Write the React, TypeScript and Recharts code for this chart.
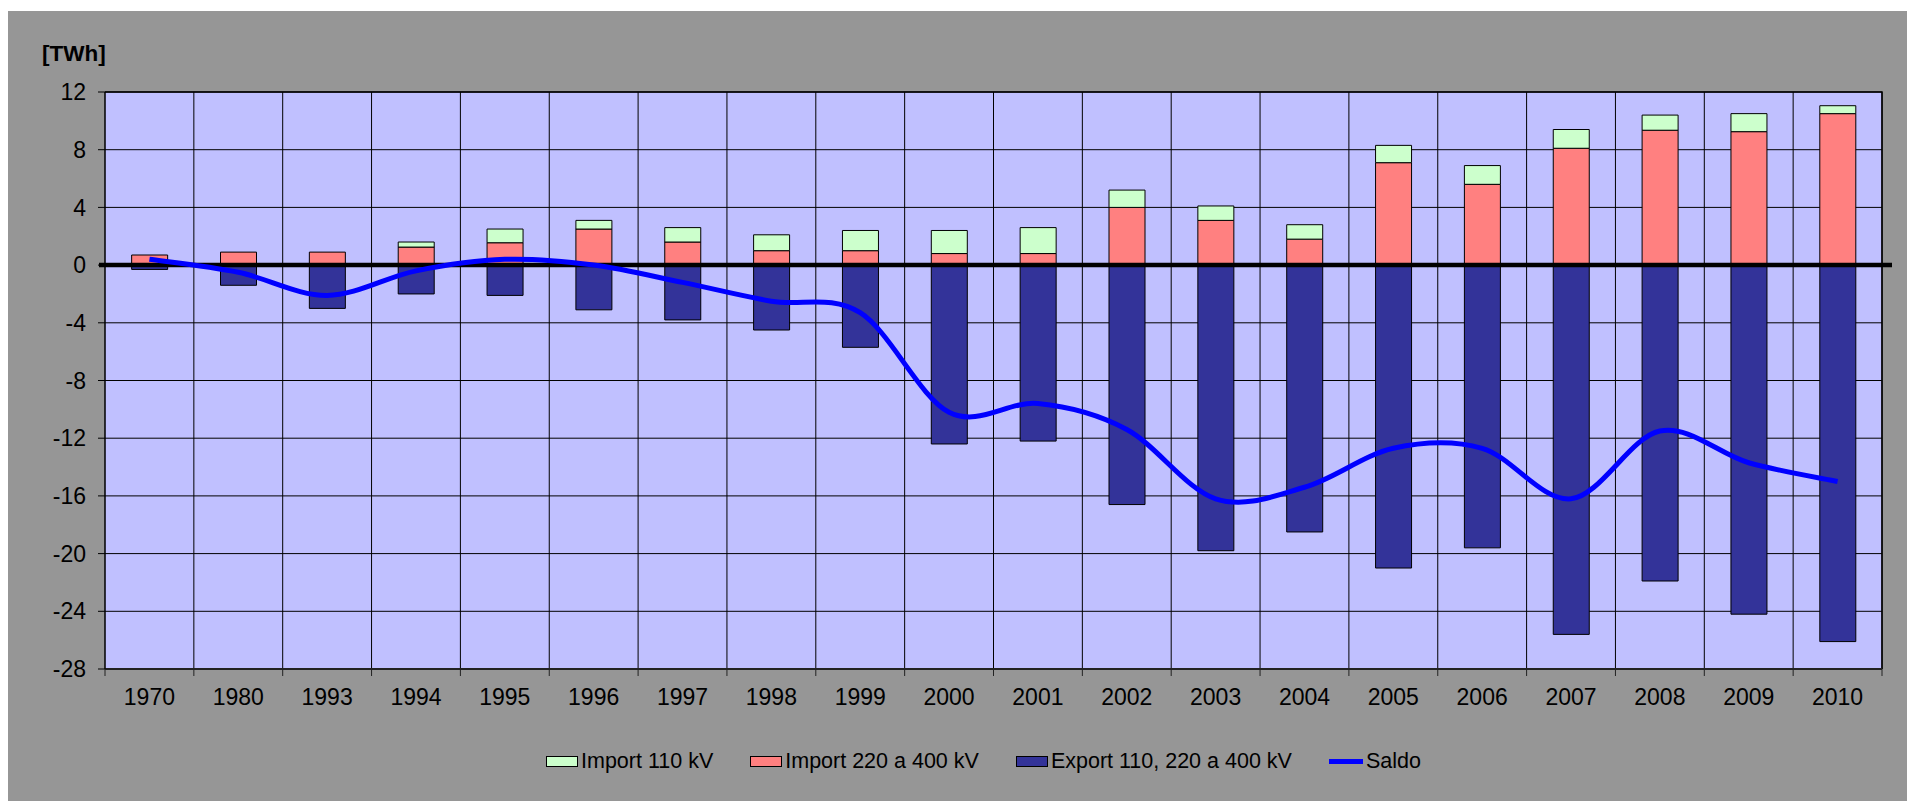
import React from 'react';
import { ComposedChart, Bar, Line, XAxis, YAxis, CartesianGrid, ReferenceLine } from 'recharts';

// hodnoty [TWh]
const years = ['1970', '1980', '1993', '1994', '1995', '1996', '1997', '1998', '1999', '2000',
  '2001', '2002', '2003', '2004', '2005', '2006', '2007', '2008', '2009', '2010'];
const import110 = [0, 0, 0, 0.35, 0.95, 0.6, 1.0, 1.1, 1.4, 1.6,
  1.8, 1.2, 1.0, 1.0, 1.2, 1.3, 1.3, 1.05, 1.25, 0.55];
const import220_400 = [0.7, 0.9, 0.9, 1.25, 1.55, 2.5, 1.6, 1.0, 1.0, 0.8,
  0.8, 4.0, 3.1, 1.8, 7.1, 5.6, 8.1, 9.35, 9.25, 10.5];
const export110_400 = [-0.3, -1.4, -3.0, -2.0, -2.1, -3.1, -3.8, -4.5, -5.7, -12.4,
  -12.2, -16.6, -19.8, -18.5, -21.0, -19.6, -25.6, -21.9, -24.2, -26.1];
const saldo = [0.4, -0.5, -2.1, -0.4, 0.4, 0.0, -1.2, -2.5, -3.3, -10.2,
  -9.6, -11.4, -16.2, -15.4, -12.7, -12.7, -16.2, -11.5, -13.7, -15.0];
const yTicks = [12, 8, 4, 0, -4, -8, -12, -16, -20, -24, -28];

const data = years.map((year, i) => ({
  year,
  import110: import110[i],
  import220: import220_400[i],
  export: export110_400[i],
  saldo: saldo[i],
}));

const CHART_W = 1899;
const CHART_H = 790;
const MARGIN = { top: 81, right: 25, bottom: 0, left: 0 };
const Y_AXIS_W = 97;
const X_AXIS_H = 132;
const PLOT_LEFT = MARGIN.left + Y_AXIS_W;
const PLOT_W = CHART_W - PLOT_LEFT - MARGIN.right;
const PLOT_BOTTOM = CHART_H - MARGIN.bottom - X_AXIS_H;
const BAND = PLOT_W / years.length;
const FONT = '"Liberation Sans", Arial, Helvetica, sans-serif';
const TICK_FS = 23;

const C = {
  page: '#969696',
  plot: '#C0C0FF',
  green: '#CCFFCC',
  pink: '#FF8080',
  navy: '#333399',
  blue: '#0000FF',
};

// vyhlazení jako v Excelu (Catmull-Rom přes body)
function excelSmooth(context: any) {
  let pts: number[][] = [];
  return {
    areaStart() {},
    areaEnd() {},
    lineStart() { pts = []; },
    point(x: number, y: number) { pts.push([+x, +y]); },
    lineEnd() {
      const n = pts.length;
      if (!n) return;
      context.moveTo(pts[0][0], pts[0][1]);
      for (let i = 0; i < n - 1; i++) {
        const p0 = pts[Math.max(0, i - 1)];
        const p1 = pts[i];
        const p2 = pts[i + 1];
        const p3 = pts[Math.min(n - 1, i + 2)];
        context.bezierCurveTo(
          p1[0] + (p2[0] - p0[0]) / 6, p1[1] + (p2[1] - p0[1]) / 6,
          p2[0] - (p3[0] - p1[0]) / 6, p2[1] - (p3[1] - p1[1]) / 6,
          p2[0], p2[1],
        );
      }
    },
  };
}

function YearTick(props: any) {
  const { x, payload, index } = props;
  const left = x - BAND / 2;
  return (
    <g>
      <line x1={left} x2={left} y1={PLOT_BOTTOM} y2={PLOT_BOTTOM + 7} stroke="#222" />
      {index === years.length - 1 && (
        <line x1={x + BAND / 2} x2={x + BAND / 2} y1={PLOT_BOTTOM} y2={PLOT_BOTTOM + 7} stroke="#222" />
      )}
      <text x={x} y={PLOT_BOTTOM + 20} dy="0.71em" textAnchor="middle" fontSize={TICK_FS} fill="#000" fontFamily={FONT}>
        {payload.value}
      </text>
    </g>
  );
}

const vPoints = years.map((_, i) => PLOT_LEFT + i * BAND).concat(PLOT_LEFT + PLOT_W);

const legendItems = [
  { label: 'Import 110 kV', color: C.green, line: false },
  { label: 'Import 220 a 400 kV', color: C.pink, line: false },
  { label: 'Export 110, 220 a 400 kV', color: C.navy, line: false },
  { label: 'Saldo', color: C.blue, line: true },
];

export default function App() {
  return (
    <div style={{ position: 'absolute', left: 8, top: 11, width: CHART_W, height: CHART_H, background: C.page, fontFamily: FONT }}>
      <div style={{ position: 'absolute', left: 34, top: 32, fontSize: 22.5, lineHeight: '22px', fontWeight: 'bold', color: '#000' }}>
        [TWh]
      </div>
      <ComposedChart
        width={CHART_W}
        height={CHART_H}
        data={data}
        margin={MARGIN}
        stackOffset="sign"
        barCategoryGap="30%"
      >
        <CartesianGrid fill={C.plot} fillOpacity={1} stroke="#000" verticalPoints={vPoints} />
        <XAxis
          dataKey="year"
          interval={0}
          height={X_AXIS_H}
          tickLine={false}
          axisLine={{ stroke: '#222', strokeWidth: 2 }}
          tick={(p: any) => <YearTick {...p} />}
        />
        <YAxis
          type="number"
          domain={[-28, 12]}
          ticks={yTicks}
          interval={0}
          width={Y_AXIS_W}
          tickSize={7}
          tickMargin={12}
          axisLine={{ stroke: '#000' }}
          tickLine={{ stroke: '#000' }}
          tick={{ fontSize: TICK_FS, fill: '#000', fontFamily: FONT }}
          allowDataOverflow
        />
        <Bar dataKey="import220" stackId="s" fill={C.pink} stroke="#000" strokeWidth={1} isAnimationActive={false} />
        <Bar dataKey="import110" stackId="s" fill={C.green} stroke="#000" strokeWidth={1} isAnimationActive={false} />
        <Bar dataKey="export" stackId="s" fill={C.navy} stroke="#000" strokeWidth={1} isAnimationActive={false} />
        <ReferenceLine
          y={12}
          shape={(p: any) => (
            <path d={`M${p.x1},${p.y1}H${p.x2}V${PLOT_BOTTOM}`} fill="none" stroke="#000" strokeWidth={1.5} />
          )}
        />
        <ReferenceLine
          y={0}
          shape={(p: any) => (
            <line x1={p.x1 - 6} x2={p.x2 + 10} y1={p.y1} y2={p.y2} stroke="#000" strokeWidth={4.5} />
          )}
        />
        <Line
          dataKey="saldo"
          type={excelSmooth as any}
          stroke={C.blue}
          strokeWidth={5}
          dot={false}
          activeDot={false}
          isAnimationActive={false}
        />
      </ComposedChart>
      <div style={{ position: 'absolute', left: 538, top: 738, height: 24, display: 'flex', alignItems: 'center', gap: 37, fontSize: 21.5, color: '#000' }}>
        {legendItems.map((it) => (
          <div key={it.label} style={{ display: 'flex', alignItems: 'center', gap: 3, whiteSpace: 'nowrap' }}>
            {it.line ? (
              <span style={{ width: 34, height: 5, background: it.color, display: 'inline-block' }} />
            ) : (
              <span style={{ width: 32, height: 11, background: it.color, border: '1px solid #000', boxSizing: 'border-box', display: 'inline-block' }} />
            )}
            <span>{it.label}</span>
          </div>
        ))}
      </div>
    </div>
  );
}
